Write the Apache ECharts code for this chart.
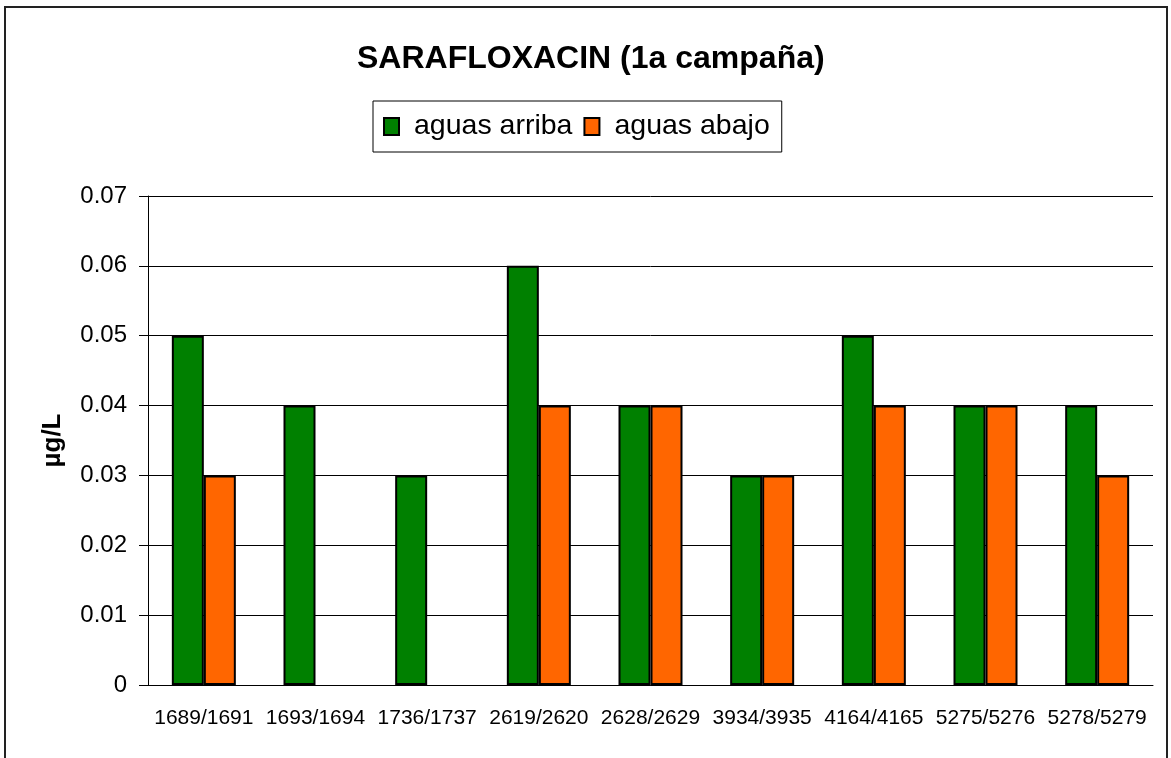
<!DOCTYPE html>
<html>
<head>
<meta charset="utf-8">
<script src="https://cdn.jsdelivr.net/npm/echarts@6/dist/echarts.min.js"></script>
<style>
  html, body { margin: 0; padding: 0; background: #fff; }
  #main { width: 1171px; height: 758px; }
</style>
</head>
<body>
<div id="main"></div>
<script>
// datos de la gráfica
var categorias = ['1689/1691', '1693/1694', '1736/1737', '2619/2620', '2628/2629',
                  '3934/3935', '4164/4165', '5275/5276', '5278/5279'];
var aguasArriba = [0.05, 0.04, 0.03, 0.06, 0.04, 0.03, 0.05, 0.04, 0.04];
var aguasAbajo  = [0.03, null, null, 0.04, 0.04, 0.03, 0.04, 0.04, 0.03];
var yTicks = { min: 0, max: 0.07, interval: 0.01 };

var fuente = 'Liberation Sans, Arial, sans-serif';
var myChart = echarts.init(document.getElementById('main'));

var option = {
    animation: false,
    backgroundColor: '#fff',
    graphic: [{
        type: 'rect',
        shape: { x: 5, y: 7, width: 1162, height: 780 },
        style: { fill: 'none', stroke: '#222', lineWidth: 2 },
        silent: true
    }],
    title: {
        text: 'SARAFLOXACIN (1a campaña)',
        left: 357,
        top: 43,
        padding: 0,
        textStyle: { fontFamily: fuente, fontSize: 32, fontWeight: 'bold', color: '#000' }
    },
    legend: {
        data: ['aguas arriba', 'aguas abajo'],
        left: 373,
        top: 101,
        padding: [11, 12, 11, 10],
        borderColor: '#000',
        borderWidth: 1,
        itemWidth: 15,
        itemHeight: 17,
        itemGap: 11,
        icon: 'rect',
        textStyle: { fontFamily: fuente, fontSize: 28.5, color: '#000', padding: [0, 0, 0, 10] }
    },
    grid: { left: 148, right: 18, top: 196, bottom: 73 },
    xAxis: {
        type: 'category',
        data: categorias,
        axisLine: { lineStyle: { color: '#000', width: 1 } },
        axisTick: { length: 6, lineStyle: { color: '#000' } },
        axisLabel: { fontFamily: fuente, fontSize: 21, color: '#000', margin: 23, interval: 0 }
    },
    yAxis: {
        type: 'value',
        min: yTicks.min,
        max: yTicks.max,
        interval: yTicks.interval,
        name: 'µg/L',
        nameLocation: 'middle',
        nameGap: 82,
        nameTextStyle: { fontFamily: fuente, fontSize: 26, fontWeight: 'bold', color: '#000' },
        axisLine: { show: true, lineStyle: { color: '#000', width: 1 } },
        axisTick: { show: true, length: 9, lineStyle: { color: '#000' } },
        splitLine: { lineStyle: { color: '#000', width: 1 } },
        axisLabel: { fontFamily: fuente, fontSize: 24, color: '#000', margin: 21 }
    },
    series: [
        {
            name: 'aguas arriba',
            type: 'bar',
            data: aguasArriba,
            barWidth: 32,
            barGap: '0%',
            itemStyle: { color: '#008000', borderColor: '#000', borderWidth: 2 }
        },
        {
            name: 'aguas abajo',
            type: 'bar',
            data: aguasAbajo,
            barWidth: 32,
            barGap: '0%',
            itemStyle: { color: '#FF6600', borderColor: '#000', borderWidth: 2 }
        }
    ]
};

myChart.setOption(option);
</script>
</body>
</html>
